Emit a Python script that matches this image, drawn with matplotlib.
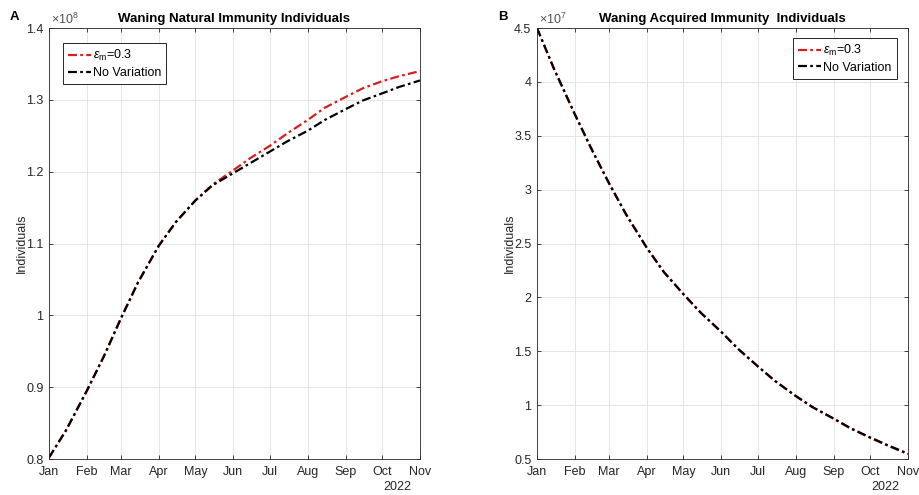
import numpy as np
import matplotlib
matplotlib.use("Agg")
from matplotlib import pyplot as plt
import matplotlib.dates as mdates
from matplotlib.ticker import FixedLocator, FuncFormatter

plt.rcParams['font.family'] = ['Liberation Sans', 'DejaVu Sans']
plt.rcParams['mathtext.fontset'] = 'custom'
plt.rcParams['mathtext.rm'] = 'Liberation Sans'
plt.rcParams['mathtext.it'] = 'Liberation Sans:italic'

# fechas (1 y 15 de cada mes)
fechas = np.array(['2022-01-01', '2022-01-15', '2022-02-01', '2022-02-15', '2022-03-01',
                   '2022-03-15', '2022-04-01', '2022-04-15', '2022-05-01', '2022-05-15',
                   '2022-06-01', '2022-06-15', '2022-07-01', '2022-07-15', '2022-08-01',
                   '2022-08-15', '2022-09-01', '2022-09-15', '2022-10-01', '2022-10-15',
                   '2022-11-01'], dtype='datetime64[D]')

# A: inmunidad natural (individuos)
natural_sin = np.array([0.802, 0.840, 0.895, 0.943, 0.996, 1.046, 1.097, 1.130, 1.160, 1.181,
                        1.198, 1.212, 1.228, 1.242, 1.257, 1.272, 1.287, 1.299, 1.309, 1.318,
                        1.327]) * 1e8
natural_eps = np.array([0.802, 0.840, 0.895, 0.943, 0.996, 1.046, 1.097, 1.130, 1.160, 1.182,
                        1.202, 1.219, 1.236, 1.253, 1.272, 1.289, 1.304, 1.316, 1.326, 1.333,
                        1.340]) * 1e8

# B: inmunidad adquirida (individuos)
adquirida_sin = np.array([4.50, 4.12, 3.70, 3.37, 3.06, 2.77, 2.46, 2.235, 2.03, 1.86,
                          1.68, 1.52, 1.36, 1.225, 1.085, 0.98, 0.876, 0.786, 0.70, 0.63,
                          0.55]) * 1e7
adquirida_eps = np.array([4.50, 4.12, 3.70, 3.37, 3.06, 2.77, 2.46, 2.235, 2.03, 1.86,
                          1.68, 1.52, 1.36, 1.225, 1.085, 0.98, 0.874, 0.783, 0.697, 0.626,
                          0.545]) * 1e7

meses = ['Jan', 'Feb', 'Mar', 'Apr', 'May', 'Jun', 'Jul', 'Aug', 'Sep', 'Oct', 'Nov']
ticks_x = np.arange('2022-01', '2022-12', dtype='datetime64[M]').astype('datetime64[D]')

gris = '#262626'
fig = plt.figure(figsize=(9.19, 4.95), dpi=100)
axA = fig.add_axes([0.0533, 0.0727, 0.4037, 0.8707])
axB = fig.add_axes([0.5843, 0.0727, 0.4037, 0.8707])

def panel(ax, yr, yn, escala, exp, ylim, paso, titulo, letra, loc, ancla):
    x = fechas.astype(object)
    ax.plot(x, yr / escala, color='#d41f1f', lw=1.6, dashes=(4, 1.5, 1.2, 1.5),
            label=r'$\epsilon_{\rm m}$=0.3')
    ax.plot(x, yn / escala, color='black', lw=1.6, dashes=(4, 1.5, 1.2, 1.5),
            label='No Variation')
    ax.set_xlim(ticks_x[0].astype(object), ticks_x[-1].astype(object))
    ax.set_ylim(*ylim)
    ax.xaxis.set_major_locator(FixedLocator(mdates.date2num(ticks_x.astype(object))))
    ax.set_xticklabels(meses)
    ax.yaxis.set_major_locator(FixedLocator(np.arange(ylim[0], ylim[1] + paso / 2, paso)))
    ax.yaxis.set_major_formatter(FuncFormatter(lambda v, p: '%g' % round(v, 3)))
    ax.grid(True, color='#e6e6e6', lw=0.7)
    ax.tick_params(direction='in', top=True, right=True, labelsize=9, colors=gris,
                   length=3, width=0.6)
    ax.tick_params(axis='x', pad=5)
    ax.tick_params(axis='y', pad=4)
    for s in ax.spines.values():
        s.set_color(gris)
        s.set_linewidth(0.6)
    ax.set_title(titulo, fontsize=9.5, fontweight='bold', pad=4)
    ax.set_ylabel('Individuals', fontsize=9, color=gris, labelpad=-1)
    ax.text(0.005, 1.003, r'$\times10^{%d}$' % exp, transform=ax.transAxes,
            fontsize=9, color='#555555', va='bottom')
    ax.text(-0.093, 1.025, letra, transform=ax.transAxes, fontsize=9.5, fontweight='bold',
            ha='center', va='center')
    ax.text(0.94, -0.065, '2022', transform=ax.transAxes, fontsize=9, color=gris,
            ha='center', va='center')
    leg = ax.legend(loc=loc, bbox_to_anchor=ancla, fontsize=9, handlelength=1.8,
                    handletextpad=0.2, borderpad=0.4, labelspacing=0.3, fancybox=False,
                    framealpha=1, borderaxespad=0)
    leg.get_frame().set_edgecolor(gris)
    leg.get_frame().set_linewidth(0.7)

panel(axA, natural_eps, natural_sin, 1e8, 8, (0.8, 1.4), 0.1,
      'Waning Natural Immunity Individuals', 'A', 'upper left', (0.038, 0.965))
panel(axB, adquirida_eps, adquirida_sin, 1e7, 7, (0.5, 4.5), 0.5,
      'Waning Acquired Immunity  Individuals', 'B', 'upper right', (0.97, 0.977))

plt.savefig('out.png', dpi=100)
